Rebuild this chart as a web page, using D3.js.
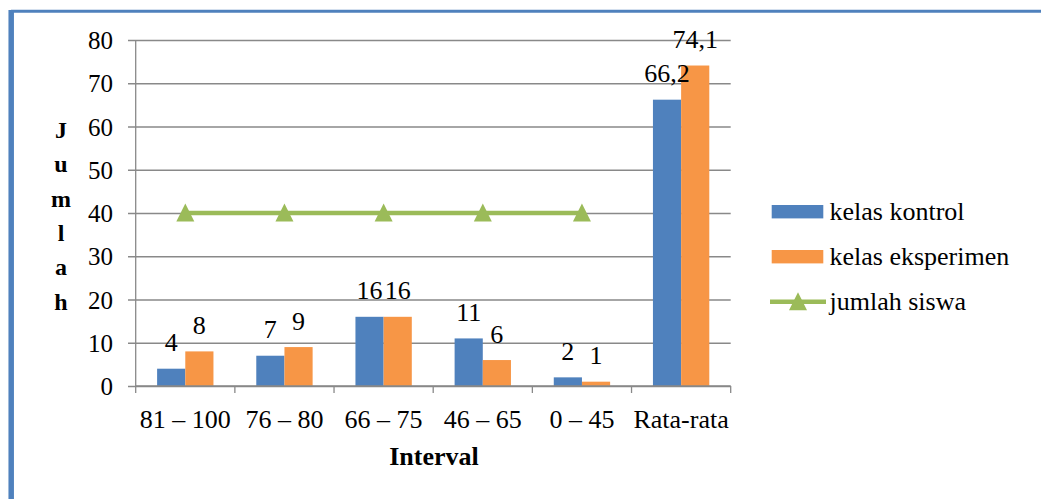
<!DOCTYPE html>
<html>
<head>
<meta charset="utf-8">
<script src="https://cdn.jsdelivr.net/npm/d3@7"></script>
<style>
  html, body { margin: 0; padding: 0; background: #ffffff; }
  svg { display: block; }
  text { font-family: "Liberation Serif", "Times New Roman", serif; fill: #000; }
</style>
</head>
<body>
<svg id="chart" width="1041" height="499"></svg>
<script>
// Data
const categories = ["81 – 100", "76 – 80", "66 – 75", "46 – 65", "0 – 45", "Rata-rata"];
const kelasKontrol = [4, 7, 16, 11, 2, 66.2];
const kelasEksperimen = [8, 9, 16, 6, 1, 74.1];
const jumlahSiswa = [40, 40, 40, 40, 40, null];
const yTicks = [0, 10, 20, 30, 40, 50, 60, 70, 80];
const seriesNames = ["kelas kontrol", "kelas eksperimen", "jumlah siswa"];
const yTitle = "Jumlah";
const xTitle = "Interval";

const colors = { kontrol: "#4F81BD", eksperimen: "#F79646", siswa: "#9BBB59", grid: "#898989", frame: "#4F81BD" };
const serif = "Liberation Serif";

const svg = d3.select("#chart");

// Frame around the figure
svg.append("line").attr("x1", 11).attr("x2", 1041).attr("y1", 11.3).attr("y2", 11.3)
  .attr("stroke", colors.frame).attr("stroke-width", 3);
svg.append("line").attr("x1", 11.2).attr("x2", 11.2).attr("y1", 10).attr("y2", 499)
  .attr("stroke", colors.frame).attr("stroke-width", 5.5);

// Scales
const plot = { left: 135.7, right: 730.7, top: 40, bottom: 386 };
const y = d3.scaleLinear().domain([0, 80]).range([plot.bottom, plot.top]);
const x0 = d3.scaleBand().domain(categories).range([plot.left, plot.right]).paddingInner(0).paddingOuter(0);
const x1 = d3.scaleBand().domain(["kontrol", "eksperimen"]).range([0, x0.bandwidth()]).paddingInner(0).paddingOuter(0.76);

// Gridlines and y axis labels
const yAxis = d3.axisLeft(y).tickValues(yTicks).tickSize(0);
const gy = svg.append("g").attr("transform", `translate(${plot.left},0)`).call(yAxis);
gy.attr("font-family", serif);
gy.select(".domain").remove();
gy.selectAll(".tick line").attr("stroke", colors.grid).attr("stroke-width", 1.3)
  .attr("x1", -7.7).attr("x2", plot.right - plot.left);
gy.selectAll(".tick text").attr("font-size", 25).attr("fill", "#000")
  .attr("x", -22.7).attr("dy", "0.34em");

// Vertical axis line
svg.append("line").attr("x1", plot.left).attr("x2", plot.left).attr("y1", plot.top).attr("y2", plot.bottom)
  .attr("stroke", colors.grid).attr("stroke-width", 1.3);

// Bars
const rows = categories.map((c, i) => ({ cat: c, kontrol: kelasKontrol[i], eksperimen: kelasEksperimen[i] }));
const fmt = v => String(v).replace(".", ",");
const groups = svg.append("g").selectAll("g").data(rows).join("g")
  .attr("transform", d => `translate(${x0(d.cat)},0)`);
groups.selectAll("rect").data(d => [
    { key: "kontrol", value: d.kontrol },
    { key: "eksperimen", value: d.eksperimen }])
  .join("rect")
  .attr("x", d => x1(d.key))
  .attr("width", x1.bandwidth())
  .attr("y", d => y(d.value))
  .attr("height", d => y(0) - y(d.value))
  .attr("fill", d => colors[d.key]);

// Bar value labels
groups.selectAll("text").data(d => [
    { key: "kontrol", value: d.kontrol },
    { key: "eksperimen", value: d.eksperimen }])
  .join("text")
  .attr("x", d => x1(d.key) + x1.bandwidth() / 2)
  .attr("y", d => y(d.value) - 17.5)
  .attr("text-anchor", "middle")
  .attr("font-size", 26)
  .text(d => fmt(d.value));

// X axis line and ticks
svg.append("line").attr("x1", plot.left).attr("x2", plot.right).attr("y1", plot.bottom).attr("y2", plot.bottom)
  .attr("stroke", colors.grid).attr("stroke-width", 1.3);
const tickPos = categories.map(c => x0(c)).concat([plot.right]);
svg.append("g").selectAll("line").data(tickPos).join("line")
  .attr("x1", d => d).attr("x2", d => d).attr("y1", plot.bottom).attr("y2", plot.bottom + 7)
  .attr("stroke", colors.grid).attr("stroke-width", 1.3);
svg.append("g").selectAll("text").data(categories).join("text")
  .attr("x", d => x0(d) + x0.bandwidth() / 2)
  .attr("y", 428)
  .attr("text-anchor", "middle")
  .attr("font-size", 26)
  .text(d => d);

// Line series: jumlah siswa
const tri = "M-9,8.5L9,8.5L0,-9.5Z";
const pts = categories.map((c, i) => ({ cat: c, v: jumlahSiswa[i] })).filter(d => d.v !== null);
const line = d3.line().x(d => x0(d.cat) + x0.bandwidth() / 2).y(d => y(d.v));
svg.append("path").datum(pts).attr("d", line).attr("fill", "none")
  .attr("stroke", colors.siswa).attr("stroke-width", 4.5);
svg.append("g").selectAll("path").data(pts).join("path")
  .attr("transform", d => `translate(${x0(d.cat) + x0.bandwidth() / 2},${y(d.v)})`)
  .attr("d", tri).attr("fill", colors.siswa);

// Axis titles
svg.append("text").attr("x", 434).attr("y", 465).attr("text-anchor", "middle")
  .attr("font-size", 26).attr("font-weight", "bold").text(xTitle);
const yLetters = yTitle.split("");
svg.append("g").selectAll("text").data(yLetters).join("text")
  .attr("x", 61).attr("y", (d, i) => 138 + i * 34.3)
  .attr("text-anchor", "middle").attr("font-size", 24).attr("font-weight", "bold")
  .text(d => d);

// Legend
const legend = svg.append("g");
const legendY = [211.7, 256.7, 301.7];
legend.append("rect").attr("x", 771.7).attr("y", legendY[0] - 6.7).attr("width", 51.6).attr("height", 13.4).attr("fill", colors.kontrol);
legend.append("rect").attr("x", 771.7).attr("y", legendY[1] - 6.7).attr("width", 51.6).attr("height", 13.4).attr("fill", colors.eksperimen);
legend.append("line").attr("x1", 770).attr("x2", 826).attr("y1", legendY[2]).attr("y2", legendY[2])
  .attr("stroke", colors.siswa).attr("stroke-width", 4.5);
legend.append("path").attr("transform", `translate(798,${legendY[2]})`).attr("d", tri).attr("fill", colors.siswa);
legend.selectAll("text").data(seriesNames).join("text")
  .attr("x", 829.5).attr("y", (d, i) => legendY[i] + 8.5)
  .attr("font-size", 26).text(d => d);
</script>
</body>
</html>
